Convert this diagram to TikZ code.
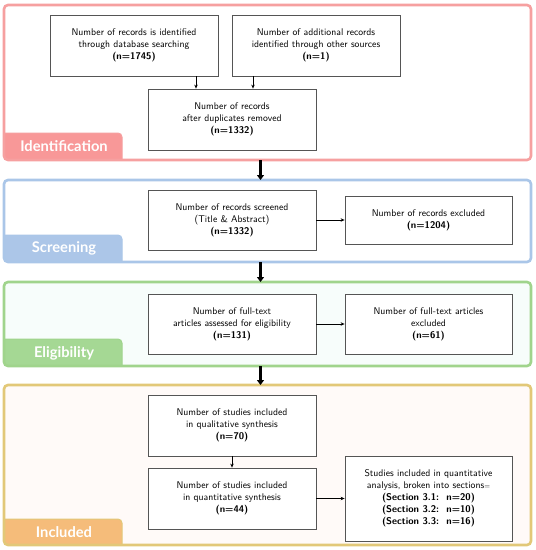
\documentclass[tikz,border=0pt]{standalone}
\usepackage{fontspec}
\newfontfamily\tabfont{Lato}
\usetikzlibrary{arrows.meta}
\definecolor{idb}{RGB}{246,160,160}
\definecolor{idt}{RGB}{248,152,152}
\definecolor{scb}{RGB}{170,198,232}
\definecolor{sct}{RGB}{172,198,232}
\definecolor{elb}{RGB}{160,212,140}
\definecolor{elt}{RGB}{165,216,148}
\definecolor{inb}{RGB}{226,200,120}
\definecolor{intab}{RGB}{245,188,122}
\definecolor{boxline}{RGB}{85,85,85}
\tikzset{
  frame/.style={minimum width=527pt, inner sep=0pt, outer sep=0pt},
  frameline/.style={line width=2.6pt, rounded corners=4pt},
  tabshape/.style={rounded corners=4pt, line width=1pt, minimum width=124pt, inner sep=0pt, outer sep=0pt},
  tablabel/.style={text=white, font=\tabfont\bfseries\fontsize{14.7}{16}\selectfont, inner sep=0pt},
  stepbox/.style={draw=boxline, line width=0.8pt, fill=white, align=center, font=\sffamily\fontsize{9.7}{12}\selectfont, minimum width=168pt, minimum height=61pt, inner sep=2pt},
  thin arrow/.style={line width=0.8pt, -{Stealth[length=4pt,width=3.5pt]}},
  big arrow/.style={line width=2.4pt, -{Triangle[length=5pt,width=7pt]}}
}
\begin{document}
\begin{tikzpicture}[x=1pt,y=-1pt]
\useasboundingbox (0,0) rectangle (536,550);
% frames
\node[frame, fill=white, minimum height=155pt] (F1) at (267.5,82.5) {};
\node[frame, fill=white, minimum height=82pt] (F2) at (267.5,221) {};
\node[frame, fill={rgb,255:red,247;green,253;blue,251}, minimum height=84pt] (F3) at (267.5,324) {};
\node[frame, fill={rgb,255:red,255;green,250;blue,248}, minimum height=160pt] (F4) at (267.5,465) {};
% tabs
\begin{scope}
\clip[rounded corners=4pt] (F1.south west) rectangle (F1.north east);
\node[tabshape, fill=idt, draw=idb, minimum height=34pt] (T1) at (60,150) {};
\end{scope}
\begin{scope}
\clip[rounded corners=4pt] (F2.south west) rectangle (F2.north east);
\node[tabshape, fill=sct, draw=scb, minimum height=34pt] (T2) at (60,252) {};
\end{scope}
\begin{scope}
\clip[rounded corners=4pt] (F3.south west) rectangle (F3.north east);
\node[tabshape, fill=elt, draw=elb, minimum height=34pt] (T3) at (60,356) {};
\end{scope}
\begin{scope}
\clip[rounded corners=4pt] (F4.south west) rectangle (F4.north east);
\node[tabshape, fill=intab, draw=inb, minimum height=34pt] (T4) at (60,536) {};
\end{scope}
\node[tablabel] (L1) at (64,146.5) {Identification};
\node[tablabel] (L2) at (64,248) {Screening};
\node[tablabel] (L3) at (64,353) {Eligibility};
\node[tablabel] (L4) at (64,532.5) {Included};
% frame borders
\draw[frameline, idb] (F1.south west) rectangle (F1.north east);
\draw[frameline, scb] (F2.south west) rectangle (F2.north east);
\draw[frameline, elb] (F3.south west) rectangle (F3.north east);
\draw[frameline, inb] (F4.south west) rectangle (F4.north east);
% boxes
\node[stepbox] (B1) at (134,45.5) {Number of records is identified\\through database searching\\\textbf{(n=1745)}};
\node[stepbox] (B2) at (316,45.5) {Number of additional records\\identified through other sources\\\textbf{(n=1)}};
\node[stepbox] (B3) at (232,119.5) {Number of records\\after duplicates removed\\\textbf{(n=1332)}};
\node[stepbox, minimum height=60pt] (B4) at (232,220) {Number of records screened\\(Title \& Abstract)\\\textbf{(n=1332)}};
\node[stepbox, minimum width=167pt, minimum height=48pt] (B5) at (428.5,220) {Number of records excluded\\\textbf{(n=1204)}};
\node[stepbox, minimum height=60pt] (B6) at (232,324) {Number of full-text\\articles assessed for eligibility\\\textbf{(n=131)}};
\node[stepbox, minimum width=167pt, minimum height=60pt] (B7) at (428.5,324) {Number of full-text articles\\excluded\\\textbf{(n=61)}};
\node[stepbox] (B8) at (232,425.5) {Number of studies included\\in qualitative synthesis\\\textbf{(n=70)}};
\node[stepbox] (B9) at (232,498.5) {Number of studies included\\in quantitative synthesis\\\textbf{(n=44)}};
\node[stepbox, minimum width=167pt, minimum height=85pt] (B10) at (428.5,498.5) {Studies included in quantitative\\analysis, broken into sections{\scriptsize=}\\\textbf{(Section 3.1:\ \ n=20)}\\\textbf{(Section 3.2:\ \ n=10)}\\\textbf{(Section 3.3:\ \ n=16)}};
% connectors
\draw[thin arrow] ([xshift=62pt]B1.south) -- ([xshift=62pt]B1.south |- B3.north);
\draw[thin arrow] ([xshift=-63pt]B2.south) -- ([xshift=-63pt]B2.south |- B3.north);
\draw[thin arrow] (B4.east) -- (B5.west);
\draw[thin arrow] (B6.east) -- (B7.west);
\draw[thin arrow] (B8.south) -- (B9.north);
\draw[thin arrow] (B9.east) -- (B10.west);
\draw[big arrow] ([xshift=-7pt]F1.south) -- ([xshift=-7pt]F2.north);
\draw[big arrow] ([xshift=-7pt]F2.south) -- ([xshift=-7pt]F3.north);
\draw[big arrow] ([xshift=-7pt]F3.south) -- ([xshift=-7pt]F4.north);
\end{tikzpicture}
\end{document}
